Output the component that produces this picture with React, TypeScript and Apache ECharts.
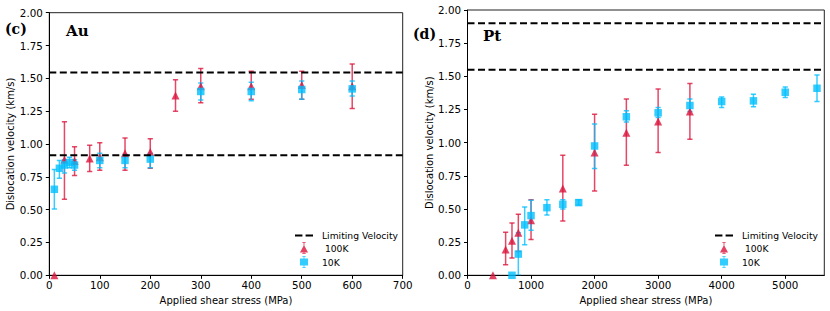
import React, { useEffect, useRef } from "react";
import * as echarts from "echarts";

// ---------- Data ----------
// Au panel (c)
const auStress100 = [10, 30, 50, 80, 100, 150, 200, 250, 300, 400, 500, 600];
const auVel100 = [0.0, 0.88, 0.87, 0.89, 0.9, 0.93, 0.94, 1.37, 1.44, 1.44, 1.45, 1.44];
const auLo100 = [0.0, 0.58, 0.76, 0.79, 0.8, 0.8, 0.815, 1.25, 1.315, 1.34, 1.34, 1.27];
const auHi100 = [0.0, 1.17, 0.98, 0.99, 1.01, 1.045, 1.04, 1.49, 1.575, 1.555, 1.555, 1.61];

const auStress10 = [10, 20, 30, 40, 50, 100, 150, 200, 300, 400, 500, 600];
const auVel10 = [0.655, 0.815, 0.84, 0.86, 0.84, 0.875, 0.875, 0.885, 1.4, 1.4, 1.415, 1.42];
const auLo10 = [0.505, 0.74, 0.78, 0.82, 0.8, 0.82, 0.82, 0.82, 1.335, 1.33, 1.34, 1.365];
const auHi10 = [0.805, 0.875, 0.88, 0.9, 0.88, 0.93, 0.92, 0.93, 1.465, 1.47, 1.48, 1.48];

const auLimits = [1.545, 0.915];

// Pt panel (d)
const ptStress100 = [400, 600, 700, 800, 1000, 1500, 2000, 2500, 3000, 3500];
const ptVel100 = [0.0, 0.195, 0.26, 0.32, 0.415, 0.655, 0.925, 1.075, 1.16, 1.235];
const ptLo100 = [0.0, 0.08, 0.13, 0.18, 0.27, 0.41, 0.635, 0.83, 0.925, 1.025];
const ptHi100 = [0.0, 0.325, 0.395, 0.46, 0.57, 0.905, 1.215, 1.33, 1.405, 1.445];

const ptStress10 = [700, 800, 900, 1000, 1250, 1500, 1750, 2000, 2500, 3000, 3500, 4000, 4500, 5000, 5500];
const ptVel10 = [0.0, 0.16, 0.38, 0.45, 0.51, 0.535, 0.548, 0.975, 1.195, 1.225, 1.28, 1.31, 1.315, 1.38, 1.41];
const ptLo10 = [0.0, 0.0, 0.23, 0.34, 0.455, 0.5, 0.53, 0.805, 1.155, 1.19, 1.235, 1.265, 1.27, 1.34, 1.31];
const ptHi10 = [0.0, 0.32, 0.515, 0.565, 0.57, 0.57, 0.57, 1.14, 1.24, 1.265, 1.33, 1.345, 1.365, 1.42, 1.51];

const ptLimits = [1.9, 1.55];

// Axes / ticks
const auXTicks = [0, 100, 200, 300, 400, 500, 600, 700];
const ptXTicks = [0, 1000, 2000, 3000, 4000, 5000];
const yTicks = [0, 0.25, 0.5, 0.75, 1.0, 1.25, 1.5, 1.75, 2.0];
const AU_X_MAX = 700;
const PT_X_MAX = 5615;

const NAME_100K = " 100K";
const NAME_10K = "10K";
const NAME_LIMIT = "Limiting Velocity";

const RED = "#DC143C";
const BLUE = "#00BFFF";
const FONT = "DejaVu Sans";

// legend icons (with small error bars, like the original)
const ICON_DASH = "path://M0,0H7V2H0ZM10,0H17V2H10Z";
const ICON_TRI =
  "path://M0.3,9.6L4,2.8L7.7,9.6ZM3.6,0H4.4V11H3.6ZM2.4,0H5.6V0.8H2.4ZM2.4,10.2H5.6V11H2.4Z";
const ICON_SQ =
  "path://M0.3,2.2H7.7V8.8H0.3ZM3.6,0H4.4V11H3.6ZM2.4,0H5.6V0.8H2.4ZM2.4,10.2H5.6V11H2.4Z";

function zip2(a: number[], b: number[]) {
  return a.map((v, i) => [v, b[i]]);
}
function zip3(a: number[], b: number[], c: number[]) {
  return a.map((v, i) => [v, b[i], c[i]]);
}

function errRender(color: string) {
  return (params: any, api: any) => {
    const x = api.value(0);
    const lo = api.value(1);
    const hi = api.value(2);
    if (hi === lo) return null;
    const a = api.coord([x, lo]);
    const b = api.coord([x, hi]);
    const w = 2.6;
    const style = { stroke: color, lineWidth: 1.5, opacity: 0.78 };
    return {
      type: "group",
      children: [
        { type: "line", shape: { x1: a[0], y1: a[1], x2: b[0], y2: b[1] }, style },
        { type: "line", shape: { x1: a[0] - w, y1: a[1], x2: a[0] + w, y2: a[1] }, style },
        { type: "line", shape: { x1: b[0] - w, y1: b[1], x2: b[0] + w, y2: b[1] }, style },
      ],
    };
  };
}

function makeXAxis(gridIndex: number, max: number, ticks: number[]) {
  return {
    type: "value",
    gridIndex,
    min: 0,
    max,
    name: "Applied shear stress (MPa)",
    nameLocation: "middle",
    nameGap: 16,
    nameTextStyle: { fontFamily: FONT, fontSize: 10, color: "#000" },
    axisLine: { show: true, onZero: false, lineStyle: { color: "#000", width: 1 } },
    axisTick: { show: true, length: 3.5, lineStyle: { color: "#000" }, customValues: ticks },
    axisLabel: {
      fontFamily: FONT,
      fontSize: 10.3,
      color: "#000",
      margin: 5,
      customValues: ticks,
      formatter: (v: number) => String(v),
    },
    splitLine: { show: false },
  };
}

function makeYAxis(gridIndex: number) {
  return {
    type: "value",
    gridIndex,
    min: 0,
    max: 2,
    interval: 0.25,
    name: "Dislocation velocity (km/s)",
    nameLocation: "middle",
    nameGap: 33,
    nameTextStyle: { fontFamily: FONT, fontSize: 10, color: "#000" },
    axisLine: { show: true, onZero: false, lineStyle: { color: "#000", width: 1 } },
    axisTick: { show: true, length: 3.5, lineStyle: { color: "#000" }, customValues: yTicks },
    axisLabel: {
      fontFamily: FONT,
      fontSize: 10.3,
      color: "#000",
      margin: 6.5,
      customValues: yTicks,
      formatter: (v: number) => v.toFixed(2),
    },
    splitLine: { show: false },
  };
}

function panelSeries(
  idx: number,
  xMax: number,
  s100: number[], v100: number[], lo100: number[], hi100: number[],
  s10: number[], v10: number[], lo10: number[], hi10: number[],
  limits: number[]
) {
  const common = { xAxisIndex: idx, yAxisIndex: idx };
  const out: any[] = [
    {
      ...common,
      type: "scatter",
      name: NAME_100K,
      data: zip2(s100, v100),
      symbol: "triangle",
      symbolSize: 8,
      itemStyle: { color: RED },
      z: 3,
      clip: true,
    },
    {
      ...common,
      type: "scatter",
      name: NAME_10K,
      data: zip2(s10, v10),
      symbol: "rect",
      symbolSize: 7.5,
      itemStyle: { color: BLUE },
      z: 4,
      clip: true,
    },
    {
      ...common,
      type: "custom",
      name: "err100_" + idx,
      data: zip3(s100, lo100, hi100),
      encode: { x: 0, y: [1, 2] },
      renderItem: errRender(RED),
      z: 1,
      clip: true,
    },
    {
      ...common,
      type: "custom",
      name: "err10_" + idx,
      data: zip3(s10, lo10, hi10),
      encode: { x: 0, y: [1, 2] },
      renderItem: errRender(BLUE),
      z: 2,
      clip: true,
    },
  ];
  limits.forEach((v) => {
    out.push({
      ...common,
      type: "line",
      name: NAME_LIMIT,
      data: [
        [0, v],
        [xMax, v],
      ],
      symbol: "none",
      showSymbol: false,
      lineStyle: { color: "#000", width: 2, type: [7, 3.5] },
      itemStyle: { color: "#000" },
      z: 6,
      silent: true,
    });
  });
  return out;
}

function makeLegend(left: number, top: number) {
  return {
    left,
    top,
    orient: "vertical",
    itemWidth: 18,
    itemHeight: 12,
    itemGap: 2,
    symbolKeepAspect: true,
    selectedMode: false,
    textStyle: { fontFamily: FONT, fontSize: 9.2, color: "#000", padding: [0, 0, 0, 4] },
    data: [
      { name: NAME_LIMIT, icon: ICON_DASH },
      { name: NAME_100K, icon: ICON_TRI },
      { name: NAME_10K, icon: ICON_SQ },
    ],
  };
}

export default function App() {
  const ref = useRef<HTMLDivElement>(null);

  useEffect(() => {
    if (!ref.current) return;
    const chart = echarts.init(ref.current, undefined, { renderer: "svg" });
    const option: any = {
      animation: false,
      backgroundColor: "#fff",
      grid: [
        {
          left: 49.3,
          top: 12.7,
          width: 353.4,
          height: 262.6,
          show: true,
          borderColor: "#222",
          borderWidth: 1,
          backgroundColor: "transparent",
          outerBoundsMode: "none",
        },
        {
          left: 467.5,
          top: 10,
          width: 356.8,
          height: 265.3,
          show: true,
          borderColor: "#222",
          borderWidth: 1,
          backgroundColor: "transparent",
          outerBoundsMode: "none",
        },
      ],
      xAxis: [makeXAxis(0, AU_X_MAX, auXTicks), makeXAxis(1, PT_X_MAX, ptXTicks)],
      yAxis: [makeYAxis(0), makeYAxis(1)],
      legend: [makeLegend(290, 226), makeLegend(710, 226)],
      series: [
        ...panelSeries(0, AU_X_MAX, auStress100, auVel100, auLo100, auHi100, auStress10, auVel10, auLo10, auHi10, auLimits),
        ...panelSeries(1, PT_X_MAX, ptStress100, ptVel100, ptLo100, ptHi100, ptStress10, ptVel10, ptLo10, ptHi10, ptLimits),
      ],
      graphic: [
        {
          type: "text",
          left: 5,
          top: 22,
          style: { text: "(c)", font: "bold 14px 'DejaVu Serif'", fill: "#000" },
        },
        {
          type: "text",
          left: 66,
          top: 23,
          style: { text: "Au", font: "bold 15px 'DejaVu Serif'", fill: "#000" },
        },
        {
          type: "text",
          left: 413,
          top: 27,
          style: { text: "(d)", font: "bold 14px 'DejaVu Serif'", fill: "#000" },
        },
        {
          type: "text",
          left: 483,
          top: 28,
          style: { text: "Pt", font: "bold 15px 'DejaVu Serif'", fill: "#000" },
        },
      ],
    };
    chart.setOption(option);
    return () => chart.dispose();
  }, []);

  return (
    <div
      ref={ref}
      style={{ position: "absolute", left: 0, top: 0, width: 830, height: 311 }}
    />
  );
}
